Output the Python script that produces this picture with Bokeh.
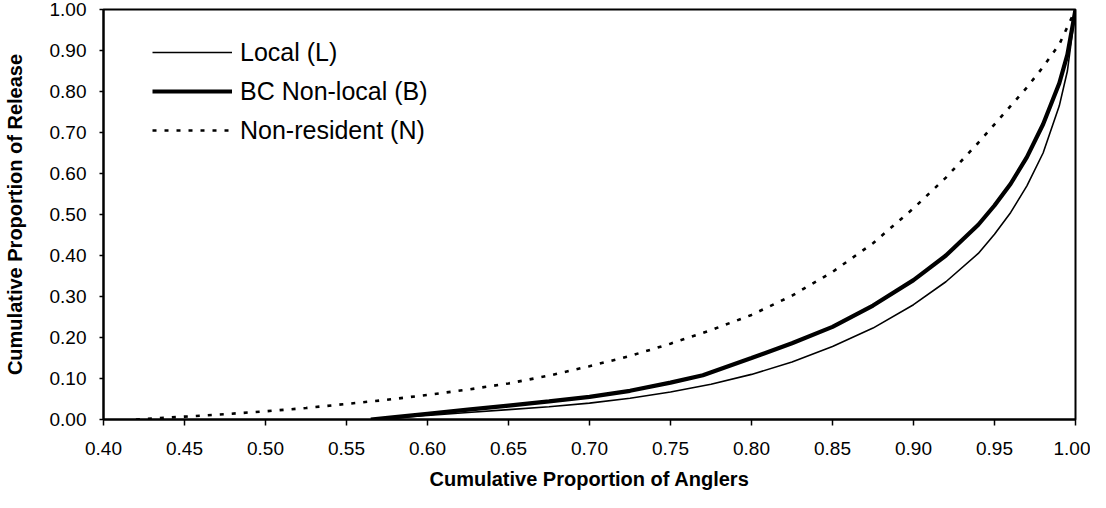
from bokeh.plotting import figure
from bokeh.models import FixedTicker, NumeralTickFormatter, Legend, LegendItem, Range1d
from bokeh.embed import file_html
from bokeh.resources import INLINE

# ---- data ----
x_tick_values = [0.40, 0.45, 0.50, 0.55, 0.60, 0.65, 0.70, 0.75, 0.80, 0.85, 0.90, 0.95, 1.00]
y_tick_values = [0.0, 0.1, 0.2, 0.3, 0.4, 0.5, 0.6, 0.7, 0.8, 0.9, 1.0]

local_x = [0.565, 0.58, 0.60, 0.625, 0.65, 0.675, 0.70, 0.725, 0.75, 0.775, 0.80, 0.825,
           0.85, 0.875, 0.90, 0.92, 0.94, 0.95, 0.96, 0.97, 0.98, 0.99, 0.995, 1.00]
local_y = [0.000, 0.004, 0.010, 0.017, 0.024, 0.031, 0.040, 0.052, 0.067, 0.086, 0.110, 0.140,
           0.178, 0.223, 0.280, 0.336, 0.405, 0.452, 0.505, 0.570, 0.650, 0.765, 0.850, 1.000]

bc_x = [0.565, 0.58, 0.60, 0.625, 0.65, 0.675, 0.70, 0.725, 0.75, 0.77, 0.80, 0.825,
        0.85, 0.875, 0.90, 0.92, 0.94, 0.95, 0.96, 0.97, 0.98, 0.99, 0.995, 1.00]
bc_y = [0.000, 0.006, 0.014, 0.024, 0.034, 0.044, 0.055, 0.070, 0.090, 0.108, 0.150, 0.186,
        0.226, 0.278, 0.340, 0.400, 0.475, 0.522, 0.575, 0.640, 0.720, 0.820, 0.890, 1.000]

nonres_x = [0.42, 0.45, 0.475, 0.50, 0.525, 0.55, 0.575, 0.60, 0.625, 0.65, 0.675, 0.70, 0.725,
            0.75, 0.775, 0.80, 0.825, 0.85, 0.875, 0.90, 0.92, 0.94, 0.95, 0.96, 0.97, 0.98,
            0.99, 1.00]
nonres_y = [0.000, 0.007, 0.013, 0.020, 0.028, 0.038, 0.048, 0.060, 0.073, 0.088, 0.107, 0.130,
            0.155, 0.185, 0.218, 0.255, 0.302, 0.360, 0.430, 0.515, 0.590, 0.675, 0.720, 0.765,
            0.810, 0.860, 0.915, 1.000]

series_names = ["Local (L)", "BC Non-local (B)", "Non-resident (N)"]
x_title = "Cumulative Proportion of Anglers"
y_title = "Cumulative Proportion of Release"

FONT = "Liberation Sans"

p = figure(width=1090, height=492, output_backend="svg", toolbar_location=None,
           x_range=Range1d(0.40, 1.00), y_range=Range1d(0.0, 1.0),
           min_border_left=100, min_border_right=15, min_border_top=9, min_border_bottom=73)
p.background_fill_color = "white"
p.border_fill_color = "white"
p.outline_line_color = "black"
p.outline_line_width = 2
p.xgrid.visible = False
p.ygrid.visible = False

for ax in (p.xaxis[0], p.yaxis[0]):
    ax.axis_line_color = "black"
    ax.axis_line_width = 2
    ax.major_tick_line_color = "black"
    ax.major_tick_line_width = 1.5
    ax.major_tick_in = 0
    ax.minor_tick_line_color = None
    ax.major_label_text_font = FONT
    ax.major_label_text_font_size = "19px"
    ax.major_label_text_color = "black"
    ax.axis_label_text_font = FONT
    ax.axis_label_text_font_size = "20px"
    ax.axis_label_text_font_style = "bold"
    ax.axis_label_text_color = "black"
    ax.formatter = NumeralTickFormatter(format="0.00")

p.xaxis[0].ticker = FixedTicker(ticks=x_tick_values)
p.yaxis[0].ticker = FixedTicker(ticks=y_tick_values)
p.xaxis[0].major_tick_out = 6
p.yaxis[0].major_tick_out = 4
p.xaxis[0].major_label_standoff = 16
p.yaxis[0].major_label_standoff = 13
p.xaxis[0].axis_label = x_title
p.yaxis[0].axis_label = y_title
p.xaxis[0].axis_label_standoff = 10
p.yaxis[0].axis_label_standoff = 21

r_local = p.line(local_x, local_y, line_color="black", line_width=1.6)
r_bc = p.line(bc_x, bc_y, line_color="black", line_width=4.2)
r_nonres = p.line(nonres_x, nonres_y, line_color="black", line_width=2.6, line_dash="4 8")

legend = Legend(items=[LegendItem(label=series_names[0], renderers=[r_local]),
                       LegendItem(label=series_names[1], renderers=[r_bc]),
                       LegendItem(label=series_names[2], renderers=[r_nonres])],
                location=(49, 270), orientation="vertical",
                glyph_width=80, glyph_height=38, spacing=1, label_standoff=8,
                padding=0, margin=0, border_line_color=None, background_fill_alpha=0,
                label_text_font=FONT, label_text_font_size="25px", label_text_color="black")
p.add_layout(legend)

open("out.html", "w").write(file_html(p, INLINE))
